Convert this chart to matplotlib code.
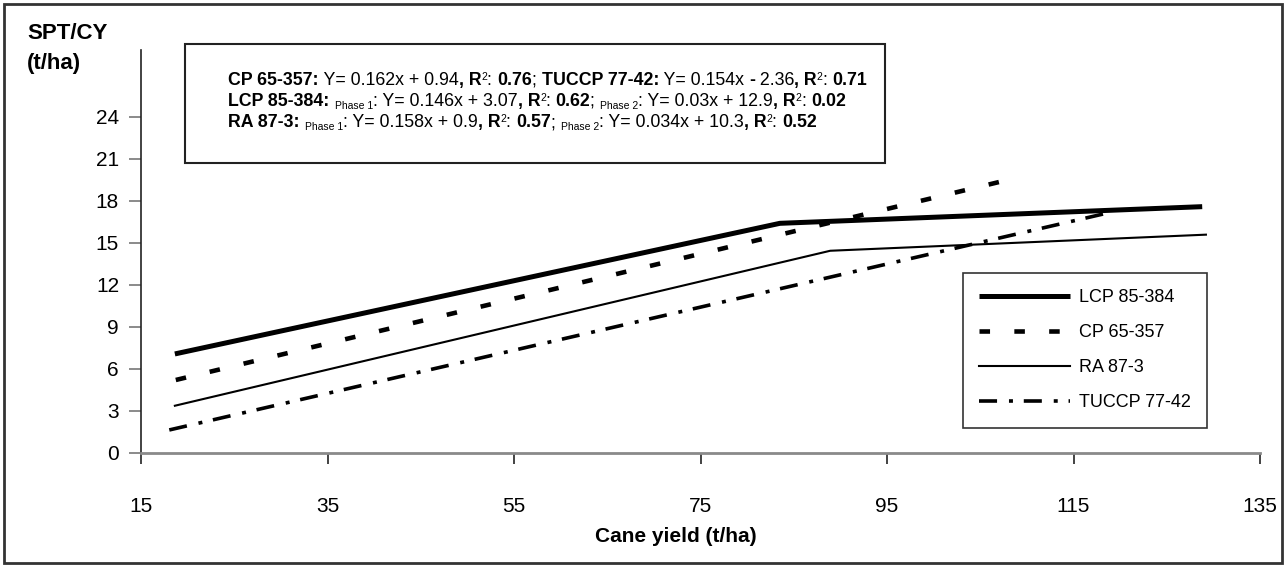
import matplotlib
matplotlib.use("Agg")
import matplotlib.pyplot as plt
from matplotlib.patches import Rectangle

plt.rcParams["font.family"] = ["Liberation Sans", "DejaVu Sans"]

# Cane yield (t/ha) vs SPT/CY (t/ha)
lcp_x = [18.6, 83.5, 128.8]
lcp_y = [7.04, 16.37, 17.56]
cp_x = [18.7, 108.7]
cp_y = [5.18, 19.59]
ra_x = [18.6, 88.9, 129.2]
ra_y = [3.34, 14.41, 15.56]
tu_x = [18.0, 118.8]
tu_y = [1.61, 17.13]

x_ticks = [15, 35, 55, 75, 95, 115, 135]
y_ticks = [0, 3, 6, 9, 12, 15, 18, 21, 24]

# regression text: (text, bold, small, raise in px)
eq_lines = [
    [("CP 65-357:", 1, 0, 0), (" Y= 0.162x + 0.94", 0, 0, 0), (", R", 1, 0, 0),
     ("2", 0, 1, 5), (": ", 0, 0, 0), ("0.76", 1, 0, 0), ("; ", 0, 0, 0),
     ("TUCCP 77-42:", 1, 0, 0), (" Y= 0.154x ", 0, 0, 0), ("-", 1, 0, 0),
     (" 2.36", 0, 0, 0), (", R", 1, 0, 0), ("2", 0, 1, 5), (": ", 0, 0, 0),
     ("0.71", 1, 0, 0)],
    [("LCP 85-384:", 1, 0, 0), (" ", 0, 0, 0), ("Phase 1", 0, 1, -3),
     (": Y= 0.146x + 3.07", 0, 0, 0), (", R", 1, 0, 0), ("2", 0, 1, 5),
     (": ", 0, 0, 0), ("0.62", 1, 0, 0), ("; ", 0, 0, 0), ("Phase 2", 0, 1, -3),
     (": Y= 0.03x + 12.9", 0, 0, 0), (", R", 1, 0, 0), ("2", 0, 1, 5),
     (": ", 0, 0, 0), ("0.02", 1, 0, 0)],
    [("RA 87-3:", 1, 0, 0), (" ", 0, 0, 0), ("Phase 1", 0, 1, -3),
     (": Y= 0.158x + 0.9", 0, 0, 0), (", R", 1, 0, 0), ("2", 0, 1, 5),
     (": ", 0, 0, 0), ("0.57", 1, 0, 0), ("; ", 0, 0, 0), ("Phase 2", 0, 1, -3),
     (": Y= 0.034x + 10.3", 0, 0, 0), (", R", 1, 0, 0), ("2", 0, 1, 5),
     (": ", 0, 0, 0), ("0.52", 1, 0, 0)],
]

W, H = 1286, 567
fig = plt.figure(figsize=(W / 100, H / 100), dpi=100)
ax = fig.add_axes([141.3 / W, 1 - 452.5 / H, (1260 - 141.3) / W, (452.5 - 50) / H])

ax.plot(lcp_x, lcp_y, color="black", lw=3.6, solid_capstyle="butt", label="LCP 85-384")
ax.plot(cp_x, cp_y, color="black", lw=3.3, linestyle=(0, (2.3, 5.3)),
        dash_capstyle="butt", label="CP 65-357")
ax.plot(ra_x, ra_y, color="black", lw=1.5, label="RA 87-3")
ax.plot(tu_x, tu_y, color="black", lw=2.6, linestyle=(0, (5.0, 3.3, 1.1, 3.0)),
        dash_capstyle="butt", label="TUCCP 77-42")

ax.set_xlim(15, 135)
ax.set_ylim(0, 28.75)
ax.set_xticks(x_ticks)
ax.set_yticks(y_ticks)
ax.spines["top"].set_visible(False)
ax.spines["right"].set_visible(False)
ax.spines["left"].set_color("#222222")
ax.spines["left"].set_linewidth(1.2)
ax.spines["bottom"].set_color("#8a8a8a")
ax.spines["bottom"].set_linewidth(2.0)
ax.tick_params(axis="x", direction="out", length=8, width=1.2, color="#222222",
               pad=24, labelsize=15)
ax.tick_params(axis="y", direction="out", length=9, width=1.2, color="#777777",
               pad=7, labelsize=15)

leg = ax.legend(loc="upper left", bbox_to_anchor=(963 / W, 1 - 273 / H),
                bbox_transform=fig.transFigure, borderaxespad=0, fontsize=13,
                handlelength=5.0, handletextpad=0.5, borderpad=0.9,
                labelspacing=1.0, fancybox=False, framealpha=1)
leg.get_frame().set_edgecolor("#333333")
leg.get_frame().set_linewidth(1.2)

# axis titles
fig.text(27 / W, 1 - 33.5 / H, "SPT/CY", fontsize=16, fontweight="bold", va="center")
fig.text(27 / W, 1 - 64 / H, "(t/ha)", fontsize=16, fontweight="bold", va="center")
fig.text(676 / W, 1 - 537 / H, "Cane yield (t/ha)", fontsize=15, fontweight="bold",
         ha="center", va="center")

# equation box
fig.patches.append(Rectangle((185 / W, 1 - 163 / H), 700 / W, 119 / H,
                             transform=fig.transFigure, fill=False,
                             edgecolor="#222222", lw=1.5))

renderer = fig.canvas.get_renderer()


def run_width(s, size, bold):
    w = "bold" if bold else "normal"
    t = fig.text(0, 0, s + "|", fontsize=size, fontweight=w)
    bar = fig.text(0, 0, "|", fontsize=size, fontweight=w)
    width = t.get_window_extent(renderer).width - bar.get_window_extent(renderer).width
    t.remove()
    bar.remove()
    return width


baselines = [85, 106, 127]
for line, base in zip(eq_lines, baselines):
    x = 228.5
    for s, bold, small, dy in line:
        size = 7.5 if small else 12.8
        fig.text(x / W, 1 - (base - dy) / H, s, fontsize=size,
                 fontweight="bold" if bold else "normal", va="baseline", ha="left")
        x += run_width(s, size, bold)

# outer frame
fig.patches.append(Rectangle((4 / W, 4 / H), 1278 / W, 559 / H,
                             transform=fig.transFigure, fill=False,
                             edgecolor="#333333", lw=2))

fig.savefig("out.png", dpi=100)
